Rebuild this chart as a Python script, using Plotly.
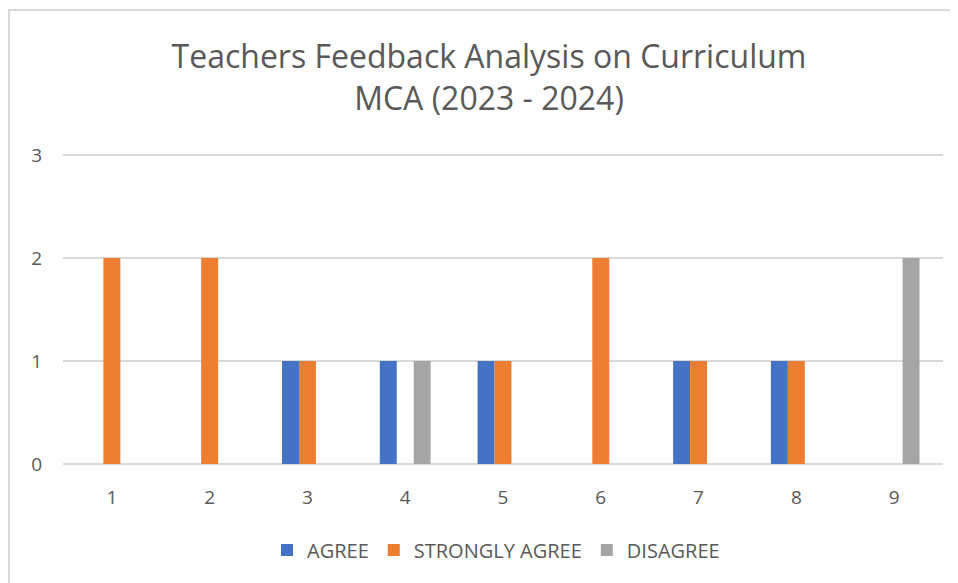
import plotly.graph_objects as go

# Feedback counts per question
QUESTIONS = ['1', '2', '3', '4', '5', '6', '7', '8', '9']
AGREE = [0, 0, 1, 1, 1, 0, 1, 1, 0]
STRONGLY_AGREE = [2, 2, 1, 0, 1, 2, 1, 1, 0]
DISAGREE = [0, 0, 0, 1, 0, 0, 0, 0, 2]
Y_TICKS = [0, 1, 2, 3]

BLUE = '#4472C4'
ORANGE = '#ED7D31'
GRAY = '#A5A5A5'
TEXT = '#595959'
GRID = '#D9D9D9'
FONT = 'Open Sans, Lato, sans-serif'

fig = go.Figure()
for name, vals, col in [('AGREE', AGREE, BLUE),
                        ('STRONGLY AGREE', STRONGLY_AGREE, ORANGE),
                        ('DISAGREE', DISAGREE, GRAY)]:
    fig.add_trace(go.Bar(x=QUESTIONS, y=vals, name=name, marker=dict(color=col, line=dict(width=0))))

# page has an 8px body margin, so figure coords = page coords - 8
W, H = 950, 575
L, R, T, B = 55, 15, 145, 117
pw, ph = W - L - R, H - T - B
base = 456  # y of the zero line in figure px

fig.update_layout(
    width=W, height=H,
    barmode='group', bargap=0.48, bargroupgap=0,
    paper_bgcolor='white', plot_bgcolor='white',
    margin=dict(l=L, r=R, t=T, b=B),
    title=dict(
        text='Teachers Feedback Analysis on Curriculum<br>MCA (2023 - 2024)',
        font=dict(family=FONT, size=32, color=TEXT),
        x=(481 - L) / pw, xref='paper', xanchor='center',
        y=1 - 60 / H, yanchor='top',
    ),
    xaxis=dict(type='category', showgrid=False, showline=False, ticks='',
               ticklabelstandoff=18,
               tickfont=dict(family=FONT, size=19, color=TEXT)),
    # range padded slightly so the gridlines at 0 and 3 are not clipped
    yaxis=dict(range=[-0.02, 3.02], tickvals=Y_TICKS, showgrid=True, gridcolor=GRID, gridwidth=2,
               zeroline=False, showline=False, ticks='', ticklabelstandoff=20,
               tickfont=dict(family=FONT, size=19, color=TEXT)),
    legend=dict(orientation='h', x=(488 - L) / pw, xanchor='center', y=-(540 - base) / ph,
                yanchor='middle', font=dict(family=FONT, size=20, color=TEXT),
                itemwidth=30, traceorder='normal'),
    shapes=[dict(type='rect', xref='paper', yref='paper',
                 x0=(1 - L) / pw, x1=(W + 20 - L) / pw,
                 y0=-(B + 20) / ph, y1=1 + (T - 2) / ph,
                 line=dict(color='#D9D9D9', width=2), fillcolor='rgba(0,0,0,0)', layer='below')],
)

fig.write_html('out.html')
